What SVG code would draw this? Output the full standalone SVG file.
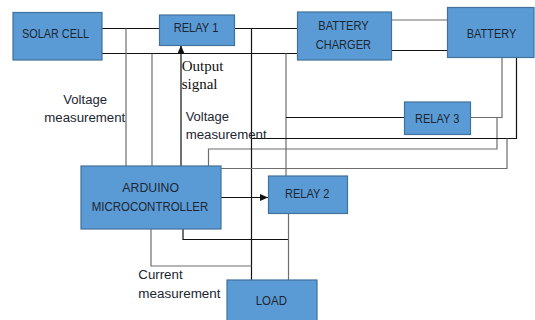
<svg xmlns="http://www.w3.org/2000/svg" width="535" height="320" viewBox="0 0 535 320">
<defs>
<style>
.box{fill:#5b9bd5;stroke:#41719c;stroke-width:1.2}
.t{font-family:"Liberation Sans",Arial,sans-serif;font-size:12.5px;fill:#1b2631;text-anchor:middle}
.lb{font-family:"Liberation Sans",Arial,sans-serif;font-size:12.5px;fill:#1b2631}
.sf{font-family:"Liberation Serif","Times New Roman",serif;font-size:15px;fill:#111}
.k{fill:none;stroke:#111;stroke-width:1.2}
.g{fill:none;stroke:#6d6d6d;stroke-width:1.2}
</style>
<marker id="ah" viewBox="0 0 8 7" refX="8" refY="3.5" markerWidth="8" markerHeight="7" markerUnits="userSpaceOnUse" orient="auto">
<path d="M0,0 L8,3.5 L0,7 Z" fill="#111"/>
</marker>
</defs>
<rect width="535" height="320" fill="#fff"/>
<g id="connectors">
<path class="k" d="M102,28.5 H159"/>
<path class="k" d="M234,28.5 H297"/>
<path class="k" d="M102,53.5 H297"/>
<path class="g" d="M391,20 H447"/>
<path class="k" d="M391,50.5 H447"/>
<path class="g" d="M126,28.5 V166"/>
<path class="g" d="M152,53.5 V166"/>
<path class="k" d="M181,166 V45.5" marker-end="url(#ah)"/>
<path class="g" d="M208.5,166 V149 H497 V117.5"/>
<path class="k" d="M251.5,28.5 V280"/>
<path class="g" d="M286,53.5 V176"/>
<path class="k" d="M286,117.5 H404"/>
<path class="g" d="M470,117.5 H502 V57.5"/>
<path class="k" d="M516.5,57.5 V138.5 H251.5"/>
<path class="g" d="M221,168.5 H507 V138.5"/>
<path class="k" d="M221,197.5 H268" marker-end="url(#ah)"/>
<path class="k" d="M183,229 V239.5 H288.5"/>
<path class="g" d="M288.5,213 V280"/>
<path class="g" d="M151,229 V266 H251.5"/>
</g>
<g id="solar-cell">
<rect class="box" x="13" y="12.5" width="89" height="47.5"/>
<text class="t" x="55.5" y="38.3" textLength="67" lengthAdjust="spacingAndGlyphs">SOLAR CELL</text>
</g>
<g id="relay1">
<rect class="box" x="159.5" y="15" width="75" height="30.5"/>
<text class="t" x="196" y="32.3" textLength="44.7" lengthAdjust="spacingAndGlyphs">RELAY 1</text>
</g>
<g id="battery-charger">
<rect class="box" x="297.5" y="12" width="94" height="48"/>
<text class="t" x="343.5" y="30" textLength="50.3" lengthAdjust="spacingAndGlyphs">BATTERY</text>
<text class="t" x="343.4" y="49" textLength="55.3" lengthAdjust="spacingAndGlyphs">CHARGER</text>
</g>
<g id="battery">
<rect class="box" x="447.5" y="7.5" width="86.5" height="50"/>
<text class="t" x="491.5" y="38.3" textLength="49.7" lengthAdjust="spacingAndGlyphs">BATTERY</text>
</g>
<g id="relay3">
<rect class="box" x="404.5" y="102" width="66" height="32.5"/>
<text class="t" x="437.2" y="122.7" textLength="44.3" lengthAdjust="spacingAndGlyphs">RELAY 3</text>
</g>
<g id="arduino">
<rect class="box" x="81" y="166" width="140" height="63"/>
<text class="t" x="150.7" y="191.7" textLength="56.7" lengthAdjust="spacingAndGlyphs">ARDUINO</text>
<text class="t" x="150" y="210.7" textLength="116.6" lengthAdjust="spacingAndGlyphs">MICROCONTROLLER</text>
</g>
<g id="relay2">
<rect class="box" x="268.5" y="176" width="79" height="37.5"/>
<text class="t" x="307.2" y="198" textLength="44.3" lengthAdjust="spacingAndGlyphs">RELAY 2</text>
</g>
<g id="load">
<rect class="box" x="227" y="280" width="90" height="45"/>
<text class="t" x="271.3" y="304.7" textLength="31.3" lengthAdjust="spacingAndGlyphs">LOAD</text>
</g>
<g id="labels">
<text class="sf" x="181.7" y="71">Output</text>
<text class="sf" x="181.7" y="89">signal</text>
<text class="lb" x="63.3" y="103.5" textLength="43.7" lengthAdjust="spacingAndGlyphs">Voltage</text>
<text class="lb" x="44.3" y="122.3" textLength="81" lengthAdjust="spacingAndGlyphs">measurement</text>
<text class="lb" x="185.7" y="120.7" textLength="43.3" lengthAdjust="spacingAndGlyphs">Voltage</text>
<text class="lb" x="185.7" y="139" textLength="81" lengthAdjust="spacingAndGlyphs">measurement</text>
<text class="lb" x="138.3" y="279" textLength="44.3" lengthAdjust="spacingAndGlyphs">Current</text>
<text class="lb" x="138.3" y="297.7" textLength="82.3" lengthAdjust="spacingAndGlyphs">measurement</text>
</g>
</svg>
